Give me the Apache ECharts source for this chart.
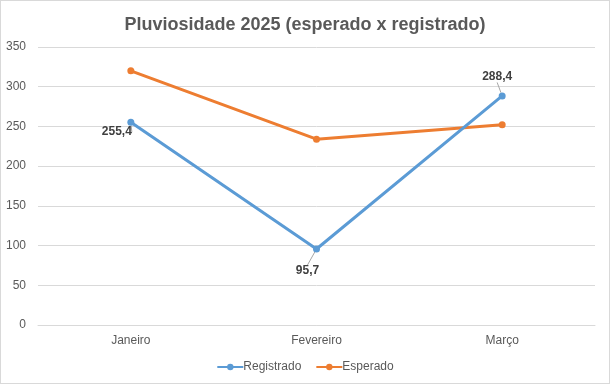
<!DOCTYPE html>
<html>
<head>
<meta charset="utf-8">
<script src="https://cdn.jsdelivr.net/npm/echarts@6/dist/echarts.min.js"></script>
<style>
html,body{margin:0;padding:0;background:#fff;}
#c{width:608px;height:382px;border:1px solid #d9d9d9;}
</style>
</head>
<body>
<div id="c"></div>
<script>
const categories = ['Janeiro', 'Fevereiro', 'Março'];
const registrado = [255.4, 95.7, 288.4];
const esperado = [320, 234, 252];
const yTicks = [0, 50, 100, 150, 200, 250, 300, 350];

const chart = echarts.init(document.getElementById('c'));
const fmt = v => String(v).replace('.', ',');
chart.setOption({
  animation: false,
  title: {
    text: 'Pluviosidade 2025 (esperado x registrado)',
    left: 'center', top: 10,
    textStyle: {fontFamily: 'Liberation Sans, Arial', fontSize: 18, fontWeight: 'bold', color: '#595959'}
  },
  legend: {
    bottom: 5, left: 'center',
    itemWidth: 26, itemHeight: 8, itemGap: 14,
    textStyle: {fontFamily: 'Liberation Sans, Arial', fontSize: 12, color: '#595959', padding: [0, 0, 0, -5]},
    data: ['Registrado', 'Esperado']
  },
  grid: {left: 37, right: 14, top: 46, bottom: 58},
  xAxis: {
    type: 'category', data: categories, boundaryGap: true,
    axisLine: {lineStyle: {color: '#d9d9d9'}},
    axisTick: {show: false},
    axisLabel: {fontFamily: 'Liberation Sans, Arial', fontSize: 12, color: '#595959', margin: 10}
  },
  yAxis: {
    type: 'value', min: yTicks[0], max: yTicks[yTicks.length - 1], interval: 50,
    axisLine: {show: false}, axisTick: {show: false},
    splitLine: {lineStyle: {color: '#d9d9d9'}},
    axisLabel: {fontFamily: 'Liberation Sans, Arial', fontSize: 12, color: '#595959', margin: 12}
  },
  series: [
    {
      name: 'Registrado', type: 'line', data: registrado,
      symbol: 'circle', symbolSize: 7,
      lineStyle: {width: 3, color: '#5b9bd5'},
      itemStyle: {color: '#5b9bd5'},
      label: {
        show: true, formatter: p => fmt(p.value),
        fontFamily: 'Liberation Sans, Arial', fontSize: 12, fontWeight: 'bold', color: '#404040'
      },
      labelLine: {show: true, lineStyle: {color: '#a6a6a6', width: 1}},
      labelLayout: function (p) {
        const cx = p.rect.x + p.rect.width / 2, cy = p.rect.y + p.rect.height / 2;
        if (p.dataIndex === 0) return {x: cx - 14, y: cy + 10, align: 'center', verticalAlign: 'middle'};
        if (p.dataIndex === 1) return {x: cx - 9, y: cy + 22, align: 'center', verticalAlign: 'middle'};
        return {x: cx - 5, y: cy - 19.5, align: 'center', verticalAlign: 'middle'};
      },
      z: 3
    },
    {
      name: 'Esperado', type: 'line', data: esperado,
      symbol: 'circle', symbolSize: 7,
      lineStyle: {width: 3, color: '#ed7d31'},
      itemStyle: {color: '#ed7d31'},
      z: 2
    }
  ]
});
</script>
</body>
</html>
